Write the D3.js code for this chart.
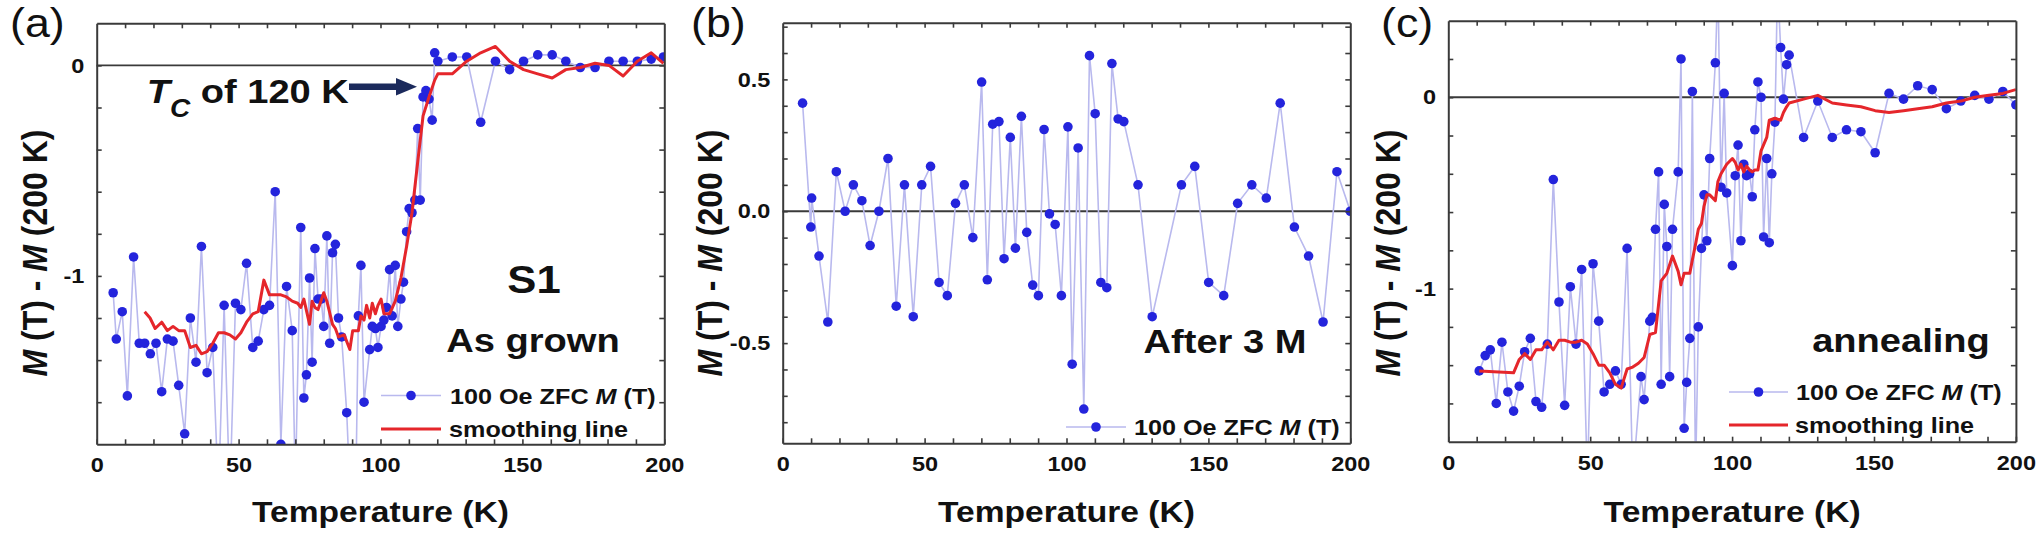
<!DOCTYPE html>
<meta charset='utf-8'>
<html>
<head>
    <title>M(T) - M(200 K)</title>
    <script src='https://d3js.org/d3.v7.min.js'></script>
    <style>
        html, body { margin: 0; padding: 0; background: #fff; }
        svg { display: block; font-family: 'Liberation Sans', Arial, sans-serif; }
    </style>
</head>
<body>
<script>
    const width = 2042;
    const height = 537;
    const SX = 1.12; // the original figure is a bit stretched sideways

    // x axis, shared by all three panels
    const xTicks = [10, 20, 30, 40, 50, 60, 70, 80, 90, 100, 110, 120, 130, 140, 150, 160, 170, 180, 190];
    const xLabels = [0, 50, 100, 150, 200];

    // (a) as grown
    const aTemp = [5.8, 6.9, 9.0, 10.8, 13.0, 15.0, 16.9, 18.9, 20.9, 22.9, 24.9, 26.9, 28.9, 31.0, 33.0, 35.0, 36.9, 38.9, 40.9, 42.9,
        44.9, 46.9, 48.9, 50.8, 52.8, 55.0, 56.9, 58.9, 60.9, 62.9, 64.9, 66.9, 68.9, 70.0, 71.9, 73.0, 73.9, 75.0, 75.9, 76.9,
        78.0, 79.1, 80.0, 81.1, 82.1, 83.1, 84.1, 85.2, 86.3, 88.1, 89.2, 91.2, 92.2, 93.1, 94.2, 96.2, 97.1, 98.2, 99.1, 100.2,
        101.2, 102.1, 103.2, 104.1, 105.2, 106.1, 107.2, 108.1, 109.2, 110.1, 111.1, 112.1, 113.1, 114.0, 115.0, 116.0, 117.1, 118.2, 119.1, 120.2,
        125.3, 130.4, 135.3, 140.5, 145.5, 150.4, 155.4, 160.5, 165.3, 170.4, 175.6, 180.5, 185.5, 190.5, 195.4, 199.7];
    const aMag = [-1.08, -1.30, -1.17, -1.57, -0.91, -1.32, -1.32, -1.37, -1.32, -1.55, -1.30, -1.31, -1.52, -1.75, -1.20, -1.41, -0.86, -1.46, -1.34, -2.05,
        -1.14, -2.05, -1.13, -1.16, -0.94, -1.34, -1.31, -1.16, -1.14, -0.60, -1.80, -1.05, -1.26, -2.00, -0.77, -1.58, -1.47, -1.01, -1.41, -0.87,
        -1.11, -1.11, -1.24, -0.81, -1.32, -0.89, -0.85, -1.20, -1.29, -1.65, -2.00, -2.10, -1.19, -0.95, -1.60, -1.35, -1.24, -1.25, -1.34, -1.24,
        -1.21, -1.15, -0.97, -1.19, -0.95, -1.24, -1.11, -1.03, -0.79, -0.68, -0.70, -0.64, -0.30, -0.64, -0.15, -0.12, -0.16, -0.26, 0.06, 0.02,
        0.04, 0.04, -0.27, 0.02, -0.02, 0.02, 0.05, 0.05, 0.02, -0.01, -0.01, 0.02, 0.02, 0.02, 0.03, 0.04];
    const aSmoothTemp = [16.9, 18.8, 20.6, 22.9, 24.9, 26.9, 28.9, 31.0, 33.0, 35.0, 36.9, 38.9, 40.9, 42.9, 44.9, 46.9, 48.9, 50.8, 52.8, 55.0,
        56.9, 58.9, 60.9, 62.9, 64.9, 66.9, 68.9, 70.8, 71.9, 73.0, 75.0, 75.9, 76.9, 78.0, 80.0, 81.1, 83.1, 84.1, 85.2, 87.2,
        89.2, 90.2, 92.2, 93.1, 94.2, 95.1, 96.2, 97.1, 98.2, 99.1, 100.2, 101.2, 103.2, 105.2, 107.2, 109.2, 111.1, 113.1, 115.0, 117.1,
        119.1, 120.2, 125.3, 130.4, 135.3, 140.5, 145.5, 150.4, 155.4, 160.5, 165.3, 170.4, 175.6, 180.5, 185.5, 190.5, 195.4, 199.7];
    const aSmooth = [-1.17, -1.20, -1.25, -1.22, -1.26, -1.24, -1.26, -1.26, -1.34, -1.33, -1.37, -1.36, -1.32, -1.27, -1.27, -1.28, -1.30, -1.27, -1.22, -1.18,
        -1.17, -1.02, -1.09, -1.09, -1.09, -1.10, -1.12, -1.13, -1.15, -1.11, -1.23, -1.12, -1.15, -1.16, -1.08, -1.12, -1.23, -1.25, -1.29, -1.28,
        -1.35, -1.26, -1.26, -1.19, -1.21, -1.14, -1.20, -1.13, -1.18, -1.14, -1.11, -1.18, -1.18, -1.12, -1.01, -0.86, -0.70, -0.46, -0.24, -0.15,
        -0.07, -0.04, -0.04, 0.02, 0.06, 0.09, 0.02, -0.02, -0.04, -0.06, -0.02, -0.01, 0.01, 0.00, -0.05, 0.02, 0.06, 0.01];
    const aYTicks = [-1.6, -1.4, -1.2, -1.0, -0.8, -0.6, -0.4, -0.2, 0];
    const aYLabels = [-1, 0];

    // (b) after 3 months
    const bTemp = [7.0, 9.9, 10.2, 12.8, 15.9, 18.9, 22.0, 24.9, 27.9, 30.8, 33.9, 37.1, 40.0, 42.9, 46.0, 49.0, 52.1, 55.1, 58.0, 60.9,
        64.0, 67.0, 70.1, 72.1, 74.0, 76.2, 78.0, 80.2, 82.0, 84.1, 86.0, 88.1, 90.1, 92.1, 94.0, 96.0, 98.2, 100.5, 102.0, 104.1,
        106.1, 108.1, 110.1, 112.1, 114.2, 116.0, 118.2, 120.2, 125.2, 130.2, 140.5, 145.2, 150.1, 155.4, 160.3, 165.3, 170.4, 175.3, 180.3, 185.3,
        190.4, 195.3, 200.0];
    const bMag = [0.41, -0.06, 0.05, -0.17, -0.42, 0.15, 0.00, 0.10, 0.04, -0.13, 0.00, 0.20, -0.36, 0.10, -0.40, 0.10, 0.17, -0.27, -0.32, 0.03,
        0.10, -0.10, 0.49, -0.26, 0.33, 0.34, -0.18, 0.28, -0.14, 0.36, -0.08, -0.28, -0.32, 0.31, -0.01, -0.05, -0.32, 0.32, -0.58, 0.24,
        -0.75, 0.59, 0.37, -0.27, -0.29, 0.56, 0.35, 0.34, 0.10, -0.40, 0.10, 0.17, -0.27, -0.32, 0.03, 0.10, 0.05, 0.41, -0.06, -0.17,
        -0.42, 0.15, 0.00];
    const bYTicks = [-0.8, -0.7, -0.6, -0.5, -0.4, -0.3, -0.2, -0.1, 0, 0.1, 0.2, 0.3, 0.4, 0.5, 0.6, 0.7];
    const bYLabels = [-0.5, 0, 0.5];

    // (c) annealing
    const cTemp = [10.9, 13.0, 14.8, 16.9, 18.9, 21.0, 23.0, 25.0, 26.9, 28.9, 30.9, 32.9, 34.9, 37.0, 39.0, 41.0, 43.0, 45.0, 47.0, 49.0,
        51.0, 53.0, 54.9, 56.9, 58.9, 60.9, 63.0, 65.0, 67.9, 69.0, 71.0, 71.9, 73.0, 74.1, 75.0, 76.1, 77.0, 78.0, 79.0, 81.0,
        82.0, 83.1, 84.0, 85.1, 86.0, 87.1, 88.1, 89.2, 90.1, 91.1, 92.1, 94.1, 95.0, 96.1, 97.2, 98.1, 100.1, 101.1, 102.1, 103.1,
        104.1, 105.1, 106.2, 107.1, 108.0, 109.1, 110.2, 111.1, 112.2, 113.1, 114.0, 115.1, 116.0, 117.1, 118.1, 119.2, 120.1, 125.2, 130.2, 135.3,
        140.3, 145.4, 150.4, 155.3, 160.4, 165.4, 170.5, 175.5, 180.6, 185.5, 190.5, 195.4, 200.0];
    const cMag = [-1.43, -1.35, -1.32, -1.60, -1.28, -1.54, -1.64, -1.51, -1.33, -1.26, -1.59, -1.62, -1.29, -0.43, -1.07, -1.61, -0.99, -1.29, -0.90, -2.00,
        -0.87, -1.17, -1.54, -1.50, -1.43, -1.50, -0.79, -2.00, -1.46, -1.58, -1.17, -1.15, -0.69, -0.39, -1.50, -0.56, -0.78, -1.46, -0.69, -0.39,
        0.20, -1.73, -1.49, -1.26, 0.03, -2.00, -1.20, -0.79, -0.51, -0.75, -0.32, 0.18, 0.60, -0.47, 0.02, -0.50, -0.88, -0.41, -0.25, -0.75,
        -0.35, -0.41, -0.40, -0.52, -0.17, 0.08, 0.00, -0.73, -0.32, -0.76, -0.40, -0.13, 0.60, 0.26, -0.01, 0.17, 0.22, -0.21, -0.02, -0.21,
        -0.17, -0.18, -0.29, 0.02, -0.01, 0.06, 0.04, -0.06, -0.02, 0.01, -0.01, 0.03, -0.04];
    const cSmoothTemp = [10.9, 23.0, 25.0, 26.9, 28.9, 30.9, 32.9, 34.9, 37.0, 39.0, 41.0, 43.0, 45.0, 47.0, 49.0, 51.0, 53.0, 54.9, 56.9, 58.9,
        60.9, 63.0, 65.0, 67.0, 69.0, 71.0, 73.0, 75.0, 77.0, 79.0, 81.0, 82.0, 83.1, 85.1, 86.0, 87.1, 88.1, 89.2, 90.1, 91.1,
        92.1, 94.1, 95.0, 96.1, 98.1, 100.1, 101.1, 102.1, 103.1, 104.1, 105.1, 106.2, 107.1, 108.0, 109.1, 110.2, 112.2, 113.1, 115.1, 117.1,
        118.1, 119.2, 120.1, 125.2, 130.2, 135.3, 140.3, 145.4, 150.4, 155.3, 160.4, 165.4, 170.5, 175.5, 180.6, 185.5, 190.5, 195.4, 200.0];
    const cSmooth = [-1.43, -1.44, -1.37, -1.34, -1.37, -1.32, -1.32, -1.28, -1.32, -1.27, -1.27, -1.28, -1.28, -1.27, -1.29, -1.34, -1.40, -1.40, -1.44, -1.50,
        -1.52, -1.42, -1.41, -1.39, -1.36, -1.24, -1.23, -0.96, -0.92, -0.83, -0.91, -0.98, -0.92, -0.92, -0.85, -0.77, -0.69, -0.66, -0.57, -0.51,
        -0.51, -0.54, -0.44, -0.40, -0.35, -0.32, -0.34, -0.38, -0.35, -0.39, -0.36, -0.38, -0.39, -0.38, -0.38, -0.28, -0.21, -0.12, -0.11, -0.12,
        -0.08, -0.05, -0.03, -0.01, 0.01, -0.03, -0.04, -0.05, -0.07, -0.08, -0.07, -0.06, -0.05, -0.03, -0.02, 0.00, 0.01, 0.02, 0.04];
    const cYTicks = [-1.6, -1.4, -1.2, -1.0, -0.8, -0.6, -0.4, -0.2, 0, 0.2];
    const cYLabels = [-1, 0];

    const blue = '#2424dc';
    const lavender = '#b9b9ee';
    const red = '#e5262b';
    const frameColour = '#3a3a3a';
    const ink = '#111';

    const svg = d3.select('body')
        .append('svg')
        .attr('width', width)
        .attr('height', height);

    svg.append('rect').attr('width', width).attr('height', height).attr('fill', '#fff');

    // text made of parts, some of them italic
    function addText(x, y, parts, size, opts) {
        opts = opts || {};
        const t = svg.append('text')
            .attr('transform', opts.rotate
                ? `translate(${x},${y}) rotate(-90) scale(1,${SX})`
                : `translate(${x},${y}) scale(${SX},1)`)
            .attr('text-anchor', opts.anchor || 'start')
            .style('font-size', size + 'px')
            .style('font-weight', opts.weight || 'bold')
            .attr('fill', ink);
        if (typeof parts === 'string') parts = [{ t: parts }];
        parts.forEach(function (p) {
            const s = t.append('tspan').text(p.t);
            if (p.it) s.style('font-style', 'italic');
            if (p.size) s.style('font-size', p.size + 'px');
            if (p.dy) s.attr('dy', p.dy);
        });
        return t;
    }

    const panels = [
        {
            id: 'a', left: 96.7, top: 23.3, w: 567.6, bottom: 444.3, yDomain: [-1.8, 0.2],
            temp: aTemp, mag: aMag, sTemp: aSmoothTemp, smooth: aSmooth,
            yTicks: aYTicks, yLabels: aYLabels, yFmt: d => String(d),
            tag: '(a)', tagX: 10, yTitleX: 47,
            legend: [{ kind: 'blue', y: 395.5, x0: 381, x1: 441, tx: 450 },
                     { kind: 'red', y: 429, x0: 381, x1: 441, tx: 449 }]
        },
        {
            id: 'b', left: 782.7, top: 22.7, w: 567.6, bottom: 443.3, yDomain: [-0.88, 0.715],
            temp: bTemp, mag: bMag, sTemp: null, smooth: null,
            yTicks: bYTicks, yLabels: bYLabels, yFmt: d => d.toFixed(1),
            tag: '(b)', tagX: 691, yTitleX: 722,
            legend: [{ kind: 'blue', y: 427, x0: 1066, x1: 1126, tx: 1134 }]
        },
        {
            id: 'c', left: 1448.3, top: 20.7, w: 567.6, bottom: 441.7, yDomain: [-1.8, 0.4],
            temp: cTemp, mag: cMag, sTemp: cSmoothTemp, smooth: cSmooth,
            yTicks: cYTicks, yLabels: cYLabels, yFmt: d => String(d),
            tag: '(c)', tagX: 1381, yTitleX: 1400,
            legend: [{ kind: 'blue', y: 392, x0: 1729, x1: 1788, tx: 1796 },
                     { kind: 'red', y: 425, x0: 1729, x1: 1788, tx: 1795 }]
        }
    ];

    panels.forEach(function (p) {
        const x = d3.scaleLinear().domain([0, 200]).range([p.left, p.left + p.w]);
        const y = d3.scaleLinear().domain(p.yDomain).range([p.bottom, p.top]);
        const g = svg.append('g');

        svg.append('clipPath').attr('id', 'clip-' + p.id)
            .append('rect')
            .attr('x', p.left).attr('y', p.top)
            .attr('width', p.w).attr('height', p.bottom - p.top);

        // zero line
        g.append('line')
            .attr('x1', p.left).attr('x2', p.left + p.w)
            .attr('y1', y(0)).attr('y2', y(0))
            .attr('stroke', frameColour).attr('stroke-width', 1.8);

        const plot = g.append('g').attr('clip-path', `url(#clip-${p.id})`);
        const pts = d3.zip(p.temp, p.mag);
        const line = d3.line().x(d => x(d[0])).y(d => y(d[1]));

        plot.append('path').datum(pts)
            .attr('d', line)
            .attr('fill', 'none')
            .attr('stroke', lavender)
            .attr('stroke-width', 1.6);

        plot.selectAll('circle').data(pts).join('circle')
            .attr('cx', d => x(d[0])).attr('cy', d => y(d[1]))
            .attr('r', 4.8)
            .attr('fill', blue);

        if (p.smooth) {
            plot.append('path').datum(d3.zip(p.sTemp, p.smooth))
                .attr('d', line)
                .attr('fill', 'none')
                .attr('stroke', red)
                .attr('stroke-width', 3)
                .attr('stroke-linejoin', 'round');
        }

        // Origin style axes: ticks inside on all four sides
        const fmtX = d => xLabels.includes(d) ? String(d) : '';
        const xAll = [0].concat(xTicks, [200]);
        const fmtY = d => p.yLabels.some(v => Math.abs(v - d) < 1e-6) ? p.yFmt(d) : '';

        const axes = [
            g.append('g').attr('transform', `translate(0,${p.bottom})`)
                .call(d3.axisBottom(x).tickValues(xAll).tickFormat(fmtX).tickSizeInner(-5).tickSizeOuter(0).tickPadding(13)),
            g.append('g').attr('transform', `translate(0,${p.top})`)
                .call(d3.axisTop(x).tickValues(xTicks).tickFormat('').tickSizeInner(-5).tickSizeOuter(0)),
            g.append('g').attr('transform', `translate(${p.left},0)`)
                .call(d3.axisLeft(y).tickValues(p.yTicks).tickFormat(fmtY).tickSizeInner(-5).tickSizeOuter(0).tickPadding(11)),
            g.append('g').attr('transform', `translate(${p.left + p.w},0)`)
                .call(d3.axisRight(y).tickValues(p.yTicks).tickFormat('').tickSizeInner(-5).tickSizeOuter(0))
        ];
        axes.forEach(function (a) {
            a.select('.domain').attr('stroke', frameColour).attr('stroke-width', 2);
            a.selectAll('.tick line').attr('stroke', frameColour).attr('stroke-width', 1.6);
            a.selectAll('.tick text')
                .attr('fill', ink)
                .attr('transform', `scale(${SX},1)`)
                .style('font-size', '21px')
                .style('font-weight', 'bold')
                .style('font-family', "'Liberation Sans', Arial, sans-serif");
        });

        // panel tag and axis titles
        addText(p.tagX, 37, p.tag, 40, { weight: 'normal' });
        addText(p.left + p.w / 2, 522, 'Temperature (K)', 30, { anchor: 'middle' });
        addText(p.yTitleX, 253, [{ t: 'M', it: true }, { t: ' (T) - ' }, { t: 'M', it: true }, { t: ' (200 K)' }], 32,
            { anchor: 'middle', rotate: true });

        // legend
        p.legend.forEach(function (l) {
            g.append('line')
                .attr('x1', l.x0).attr('x2', l.x1).attr('y1', l.y).attr('y2', l.y)
                .attr('stroke', l.kind === 'blue' ? lavender : red)
                .attr('stroke-width', l.kind === 'blue' ? 1.6 : 3);
            if (l.kind === 'blue') {
                g.append('circle').attr('cx', (l.x0 + l.x1) / 2).attr('cy', l.y).attr('r', 4.8).attr('fill', blue);
                addText(l.tx, l.y + 8, [{ t: '100 Oe ZFC ' }, { t: 'M', it: true }, { t: ' (T)' }], 22.5);
            } else {
                addText(l.tx, l.y + 7.5, 'smoothing line', 22.5);
            }
        });
    });

    // sample labels
    addText(534, 293, 'S1', 39, { anchor: 'middle' });
    addText(533, 352, 'As grown', 34, { anchor: 'middle' });
    addText(1225, 353, 'After 3 M', 34, { anchor: 'middle' });
    addText(1901, 352, 'annealing', 34, { anchor: 'middle' });

    // Tc annotation with arrow
    addText(146.7, 103.3, [{ t: 'T', it: true }, { t: 'C', it: true, size: 25, dy: 14 }, { t: ' of 120 K', dy: -14 }], 34);
    svg.append('line')
        .attr('x1', 349).attr('x2', 399).attr('y1', 86.7).attr('y2', 86.7)
        .attr('stroke', '#1b2a5c').attr('stroke-width', 6.5);
    svg.append('path')
        .attr('d', 'M396,78 L417,86.7 L396,95.4 Z')
        .attr('fill', '#1b2a5c');
</script>
</body>
</html>
